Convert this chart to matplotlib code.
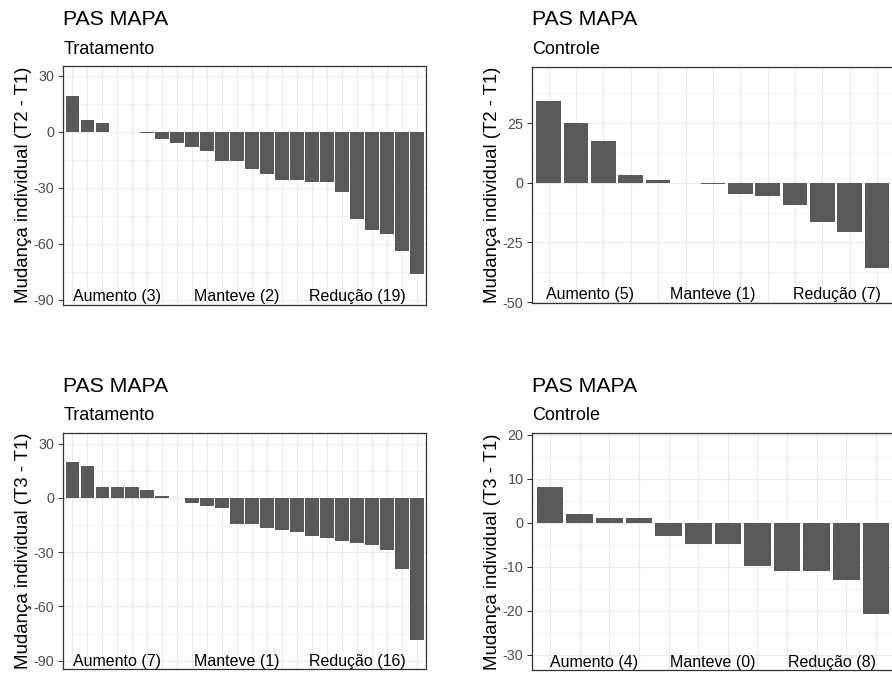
import numpy as np
import matplotlib
matplotlib.use("Agg")
import matplotlib.pyplot as plt
from matplotlib.ticker import FixedLocator, NullFormatter

plt.rcParams["font.family"] = ["Liberation Sans", "DejaVu Sans"]

# Individual changes (mmHg), sorted from largest increase to largest reduction
trat_t2 = [19.3, 6.1, 4.5, 0, 0, -0.6, -4.1, -6.1, -8.2, -10.2, -15.5, -15.5,
           -19.8, -22.7, -25.9, -25.9, -26.8, -26.8, -32.3, -46.8, -52.9,
           -54.8, -63.9, -76.0]
ctrl_t2 = [34.4, 25.1, 17.3, 3.4, 1.1, 0, -0.45, -4.7, -5.7, -9.5, -16.6,
           -20.8, -35.9]
trat_t3 = [20.1, 17.9, 5.9, 5.9, 5.9, 4.4, 1.1, 0, -2.6, -4.6, -5.5, -14.6,
           -14.6, -16.8, -17.7, -19.0, -21.0, -22.0, -24.0, -24.7, -26.0,
           -29.0, -39.5, -78.6]
ctrl_t3 = [8.0, 2.0, 1.0, 1.0, -3.0, -4.9, -4.9, -9.8, -10.9, -10.9, -13.0,
           -20.8]

title = "PAS MAPA"
subtitles = ["Tratamento", "Controle", "Tratamento", "Controle"]
ylabels = ["Mudança individual (T2 - T1)", "Mudança individual (T2 - T1)",
           "Mudança individual (T3 - T1)", "Mudança individual (T3 - T1)"]
group_names = ["Aumento", "Manteve", "Redução"]

# panel layout in pixels: left, top, right, bottom
W, H = 892, 677
boxes = [(63.3, 66.0, 426.0, 304.5),
         (532.3, 66.7, 893.5, 302.5),
         (63.3, 432.7, 426.0, 669.3),
         (532.3, 433.3, 893.8, 670.0)]
ylims = [(-92.6, 35.2), (-50.2, 48.6), (-94.8, 36.1), (-33.5, 20.3)]
major_y = [np.arange(-90, 31, 30), np.arange(-50, 26, 25),
           np.arange(-90, 31, 30), np.arange(-30, 21, 10)]
minor_y = [np.arange(-75, 31, 30), np.arange(-37.5, 50, 25),
           np.arange(-75, 31, 30), np.arange(-25, 21, 10)]
label_x = [(4, 12, 20), (2.5, 7.0, 11.55), (4, 12, 20), (2.47, 6.49, 10.5)]
title_base = [25, 25, 391.7, 391.7]
sub_base = [54, 54, 420, 420]

series = [trat_t2, ctrl_t2, trat_t3, ctrl_t3]

fig = plt.figure(figsize=(W / 100, H / 100), dpi=100)
fig.patch.set_facecolor("white")

grid_col = "#EBEBEB"
dark = "#333333"

for i, vals in enumerate(series):
    l, t, r, b = boxes[i]
    ax = fig.add_axes([l / W, 1 - b / H, (r - l) / W, (b - t) / H])
    vals = np.asarray(vals, dtype=float)
    n = len(vals)
    x = np.arange(1, n + 1)
    ax.bar(x, vals, width=0.9, color="#595959", linewidth=0, zorder=3)

    ax.set_xlim(0.4, n + 0.6)
    ax.set_ylim(*ylims[i])

    ax.xaxis.set_major_locator(FixedLocator(x))
    ax.xaxis.set_major_formatter(NullFormatter())
    ax.tick_params(axis="x", length=0)
    ax.yaxis.set_major_locator(FixedLocator(major_y[i]))
    ax.yaxis.set_minor_locator(FixedLocator(minor_y[i]))
    ax.set_yticklabels([f"{v:g}" for v in major_y[i]])
    ax.tick_params(axis="y", which="major", length=3.6, width=0.75,
                   color=dark, pad=2.8, labelsize=10.4, labelcolor="#4D4D4D")
    ax.tick_params(axis="y", which="minor", length=0)

    ax.grid(True, which="major", axis="both", color=grid_col, lw=0.8, zorder=0)
    ax.grid(True, which="minor", axis="y", color=grid_col, lw=0.45, zorder=0)
    ax.set_axisbelow(True)
    for s in ax.spines.values():
        s.set_color(dark)
        s.set_linewidth(0.9)

    # group counts
    counts = [(vals > 0).sum(), (vals == 0).sum(), (vals < 0).sum()]
    for name, c, lx in zip(group_names, counts, label_x[i]):
        ax.annotate(f"{name} ({c})", xy=(lx, 0), xycoords=("data", "axes fraction"),
                    xytext=(0, 2.2), textcoords="offset points",
                    ha="center", va="baseline", fontsize=11.5, color="black",
                    zorder=5)

    fig.text(l / W, 1 - title_base[i] / H, title, ha="left", va="baseline",
             fontsize=15.3, color="black")
    fig.text(l / W, 1 - sub_base[i] / H, subtitles[i], ha="left", va="baseline",
             fontsize=13, color="black")
    fig.text((l - 40) / W, 1 - ((t + b) / 2) / H, ylabels[i], rotation=90,
             ha="center", va="center", fontsize=13.4, color="black")

fig.savefig("out.png", dpi=100)
